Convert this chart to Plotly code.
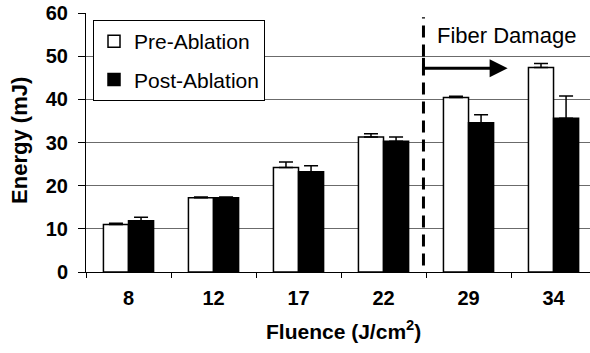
import plotly.graph_objects as go

# Fluence levels (J/cm^2) and delivered energy (mJ) before / after ablation
fluence = ["8", "12", "17", "22", "29", "34"]
pre_ablation = [11.0, 17.2, 24.2, 31.3, 40.4, 47.4]
pre_err = [0.3, 0.2, 1.3, 0.7, 0.3, 0.9]
post_ablation = [11.9, 17.2, 23.2, 30.3, 34.6, 35.6]
post_err = [0.8, 0.2, 1.4, 1.0, 1.8, 5.2]

FONT = "Liberation Sans, Arial, sans-serif"

fig = go.Figure()
fig.add_trace(go.Bar(
    x=fluence, y=pre_ablation, name="Pre-Ablation", legendgroup="a",
    marker=dict(color="white", line=dict(color="black", width=1.5)),
    error_y=dict(type="data", array=pre_err, arrayminus=[0] * len(pre_err),
                 symmetric=False, color="black", thickness=1.5, width=7),
))
fig.add_trace(go.Bar(
    x=fluence, y=post_ablation, name="Post-Ablation", legendgroup="b",
    marker=dict(color="black", line=dict(color="black", width=1.5)),
    error_y=dict(type="data", array=post_err, arrayminus=[0] * len(post_err),
                 symmetric=False, color="black", thickness=1.5, width=7),
))

# boundary between intact fiber and fiber damage region
damage_x = 3.47
fig.add_shape(type="line", xref="x", yref="y", x0=damage_x, x1=damage_x, y0=1.5, y1=59,
              line=dict(color="black", width=3, dash="12px,7px"))
fig.add_shape(type="line", xref="x", yref="y", x0=damage_x, x1=damage_x, y0=47.2, y1=49.6,
              line=dict(color="black", width=3))
fig.add_annotation(x=4.46, y=47.2, ax=damage_x - 0.02, ay=47.2, xref="x", yref="y",
                   axref="x", ayref="y", text="", showarrow=True,
                   arrowhead=2, arrowsize=1.2, arrowwidth=3, arrowcolor="black")
fig.add_annotation(x=4.45, y=54.8, xref="x", yref="y", text="Fiber Damage",
                   showarrow=False, font=dict(family=FONT, size=22, color="black"))

# axis titles
fig.add_annotation(x=-0.131, y=0.51, xref="paper", yref="paper", text="<b>Energy (mJ)</b>",
                   textangle=-90, showarrow=False, xanchor="center", yanchor="middle",
                   font=dict(family=FONT, size=22, color="black"))
fig.add_annotation(x=0.51, y=-0.224, xref="paper", yref="paper",
                   text="<b>Fluence (J/cm<sup>2</sup>)</b>", showarrow=False,
                   xanchor="center", yanchor="middle",
                   font=dict(family=FONT, size=21, color="black"))

fig.update_layout(
    width=590, height=353,
    margin=dict(l=86, r=0, t=13, b=81),
    paper_bgcolor="white", plot_bgcolor="white",
    barmode="group", bargap=0.41, bargroupgap=0,
    font=dict(family=FONT, color="black"),
    legend=dict(x=0.0139, y=0.973, xanchor="left", yanchor="top",
                bgcolor="white", bordercolor="black", borderwidth=1,
                traceorder="grouped", tracegroupgap=8,
                font=dict(family=FONT, size=21, color="black")),
    xaxis=dict(type="category", range=[-0.5, 5.429], tickson="boundaries",
               ticks="outside", ticklen=5, tickwidth=1, tickcolor="black",
               showline=True, linecolor="black", linewidth=1,
               showgrid=False, ticklabelstandoff=8,
               tickfont=dict(family=FONT, size=20, color="black"),
               tickprefix="<b>", ticksuffix="</b>"),
    yaxis=dict(range=[0, 60], dtick=10, ticks="outside", ticklen=7, tickwidth=1,
               tickcolor="black", showline=True, linecolor="black", linewidth=1,
               showgrid=True, gridcolor="#6b6b6b", gridwidth=1, zeroline=False,
               ticklabelstandoff=6,
               tickfont=dict(family=FONT, size=20, color="black"),
               tickprefix="<b>", ticksuffix="</b>"),
)

fig.write_html("out.html")
